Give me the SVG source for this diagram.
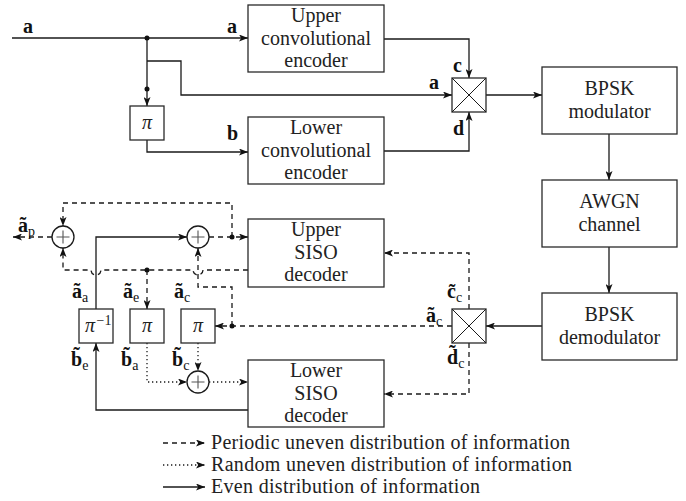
<svg xmlns="http://www.w3.org/2000/svg" width="686" height="501" viewBox="0 0 686 501">
<style>
.ln{fill:none;stroke:#1a1a1a;stroke-width:1.3}
.ds{stroke-dasharray:5 4}
.dt{stroke-dasharray:1.3 2.7}
.box{fill:#fff;stroke:#2a2a2a;stroke-width:1.3}
.t{font-family:"Liberation Serif",serif;font-size:20px;text-anchor:middle;fill:#222}
.pi{font-family:"Liberation Serif",serif;font-size:20px;font-style:italic;text-anchor:middle;fill:#222}
.lb{font-family:"Liberation Serif",serif;font-size:20px;font-weight:bold;fill:#111}
.sub{font-size:14px;font-weight:normal}
.lg{font-family:"Liberation Serif",serif;font-size:20px;fill:#222}
.dot{fill:#111}
.sum{fill:#fff;stroke:#1a1a1a;stroke-width:1.3}
.plus{stroke:#555;stroke-width:1.1}
</style>
<defs>
<marker id="ar" viewBox="0 0 9 7" refX="9" refY="3.5" markerWidth="9" markerHeight="7" markerUnits="userSpaceOnUse" orient="auto">
<path d="M0,0 L9,3.5 L0,7 L2.2,3.5 z" fill="#111"/>
</marker>
</defs>

<g id="connectors">
<!-- solid encoder side -->
<path class="ln" d="M12,38 H248" marker-end="url(#ar)"/>
<path class="ln" d="M147,38 V106" marker-end="url(#ar)"/>
<path class="ln" d="M147,61 H181 V95 H452" marker-end="url(#ar)"/>
<path class="ln" d="M147,140 V152 H248" marker-end="url(#ar)"/>
<path class="ln" d="M384,39 H469 V78" marker-end="url(#ar)"/>
<path class="ln" d="M384,151 H469 V112" marker-end="url(#ar)"/>
<path class="ln" d="M486,95 H542" marker-end="url(#ar)"/>
<path class="ln" d="M609,134 V180" marker-end="url(#ar)"/>
<path class="ln" d="M609,247 V293" marker-end="url(#ar)"/>
<path class="ln" d="M542,326 H486" marker-end="url(#ar)"/>
<!-- dashed decoder side -->
<path class="ln ds" d="M469,309 V253 H384" marker-end="url(#ar)"/>
<path class="ln ds" d="M469,343 V394 H384" marker-end="url(#ar)"/>
<path class="ln ds" d="M452,326 H215" marker-end="url(#ar)"/>
<path class="ln ds" d="M232,326 V287 H198 V248" marker-end="url(#ar)"/>
<path class="ln ds" d="M248,270 H203 A5 5 0 0 1 193 270 H101 A5 5 0 0 1 91 270 H63 V248" marker-end="url(#ar)"/>
<path class="ln ds" d="M147,270 V309" marker-end="url(#ar)"/>
<path class="ln ds" d="M209,237 H248" marker-end="url(#ar)"/>
<path class="ln ds" d="M232,237 V203 H63 V226" marker-end="url(#ar)"/>
<path class="ln ds" d="M52,237 H13" marker-end="url(#ar)"/>
<!-- solid decoder side -->
<path class="ln" d="M96,309 V237 H187" marker-end="url(#ar)"/>
<path class="ln" d="M248,410 H96 V343" marker-end="url(#ar)"/>
<!-- dotted -->
<path class="ln dt" d="M147,343 V382 H187" marker-end="url(#ar)"/>
<path class="ln dt" d="M198,343 V371" marker-end="url(#ar)"/>
<path class="ln dt" d="M209,382 H248" marker-end="url(#ar)"/>
<!-- junction dots -->
<circle class="dot" cx="147" cy="38" r="2.5"/>
<circle class="dot" cx="147" cy="89" r="2.5"/>
<circle class="dot" cx="232" cy="237" r="2.5"/>
<circle class="dot" cx="147" cy="270" r="2.5"/>
<circle class="dot" cx="232" cy="326" r="2.5"/>
</g>

<g id="labels">
<text class="lb" x="23" y="33">a</text>
<text class="lb" x="227" y="33">a</text>
<text class="lb" x="227" y="140">b</text>
<text class="lb" x="453" y="72">c</text>
<text class="lb" x="429" y="89">a</text>
<text class="lb" x="453" y="135">d</text>
<text class="lb" x="447" y="298">c&#x303;<tspan class="sub" dy="4">c</tspan></text>
<text class="lb" x="426" y="322">&#xe3;<tspan class="sub" dy="4">c</tspan></text>
<text class="lb" x="447" y="364">d&#x303;<tspan class="sub" dy="4">c</tspan></text>
<text class="lb" x="18" y="232">&#xe3;<tspan class="sub" dy="4">p</tspan></text>
<text class="lb" x="72" y="298">&#xe3;<tspan class="sub" dy="4">a</tspan></text>
<text class="lb" x="123" y="298">&#xe3;<tspan class="sub" dy="4">e</tspan></text>
<text class="lb" x="174" y="298">&#xe3;<tspan class="sub" dy="4">c</tspan></text>
<text class="lb" x="71" y="366">b&#x303;<tspan class="sub" dy="4">e</tspan></text>
<text class="lb" x="121" y="366">b&#x303;<tspan class="sub" dy="4">a</tspan></text>
<text class="lb" x="172" y="366">b&#x303;<tspan class="sub" dy="4">c</tspan></text>
</g>

<g id="upper-encoder">
<rect class="box" x="248" y="5" width="136" height="67"/>
<text class="t" x="316" y="22">Upper</text>
<text class="t" x="316" y="45">convolutional</text>
<text class="t" x="316" y="67">encoder</text>
</g>
<g id="lower-encoder">
<rect class="box" x="248" y="117" width="136" height="67"/>
<text class="t" x="316" y="134">Lower</text>
<text class="t" x="316" y="157">convolutional</text>
<text class="t" x="316" y="179">encoder</text>
</g>
<g id="interleaver-enc">
<rect class="box" x="130" y="106" width="34" height="34"/>
<text class="pi" x="147" y="129">π</text>
</g>
<g id="mux">
<rect class="box" x="452" y="78" width="34" height="34"/>
<path class="ln" d="M452,78 L486,112 M486,78 L452,112" style="stroke-width:1"/>
</g>
<g id="bpsk-mod">
<rect class="box" x="542" y="67" width="135" height="67"/>
<text class="t" x="609.5" y="95">BPSK</text>
<text class="t" x="609.5" y="118">modulator</text>
</g>
<g id="awgn">
<rect class="box" x="542" y="180" width="135" height="67"/>
<text class="t" x="609.5" y="208">AWGN</text>
<text class="t" x="609.5" y="231">channel</text>
</g>
<g id="bpsk-demod">
<rect class="box" x="542" y="293" width="135" height="67"/>
<text class="t" x="609.5" y="321">BPSK</text>
<text class="t" x="609.5" y="344">demodulator</text>
</g>
<g id="demux">
<rect class="box" x="452" y="309" width="34" height="34"/>
<path class="ln" d="M452,309 L486,343 M486,309 L452,343" style="stroke-width:1"/>
</g>
<g id="upper-siso">
<rect class="box" x="248" y="219" width="136" height="68"/>
<text class="t" x="316" y="236">Upper</text>
<text class="t" x="316" y="259">SISO</text>
<text class="t" x="316" y="281">decoder</text>
</g>
<g id="lower-siso">
<rect class="box" x="248" y="360" width="136" height="67"/>
<text class="t" x="316" y="377">Lower</text>
<text class="t" x="316" y="400">SISO</text>
<text class="t" x="316" y="422">decoder</text>
</g>
<g id="deinterleaver">
<rect class="box" x="79" y="309" width="34" height="34"/>
<text class="pi" x="90" y="332">π</text>
<text class="t" x="104" y="325" style="font-size:14px">−1</text>
</g>
<g id="interleaver-e">
<rect class="box" x="130" y="309" width="34" height="34"/>
<text class="pi" x="147" y="332">π</text>
</g>
<g id="interleaver-c">
<rect class="box" x="181" y="309" width="34" height="34"/>
<text class="pi" x="198" y="332">π</text>
</g>
<g id="sum-p">
<circle class="sum" cx="63" cy="237" r="11"/>
<path class="plus" d="M56.5,237 H69.5 M63,230.5 V243.5"/>
</g>
<g id="sum-upper">
<circle class="sum" cx="198" cy="237" r="11"/>
<path class="plus" d="M191.5,237 H204.5 M198,230.5 V243.5"/>
</g>
<g id="sum-lower">
<circle class="sum" cx="198" cy="382" r="11"/>
<path class="plus" d="M191.5,382 H204.5 M198,375.5 V388.5"/>
</g>

<g id="legend">
<path class="ln ds" d="M163,443 H205" marker-end="url(#ar)"/>
<path class="ln dt" d="M163,465 H205" marker-end="url(#ar)"/>
<path class="ln" d="M163,487 H205" marker-end="url(#ar)"/>
<text class="lg" x="211" y="449" textLength="359">Periodic uneven distribution of information</text>
<text class="lg" x="211" y="471" textLength="361">Random uneven distribution of information</text>
<text class="lg" x="211" y="493" textLength="269">Even distribution of information</text>
</g>
</svg>
